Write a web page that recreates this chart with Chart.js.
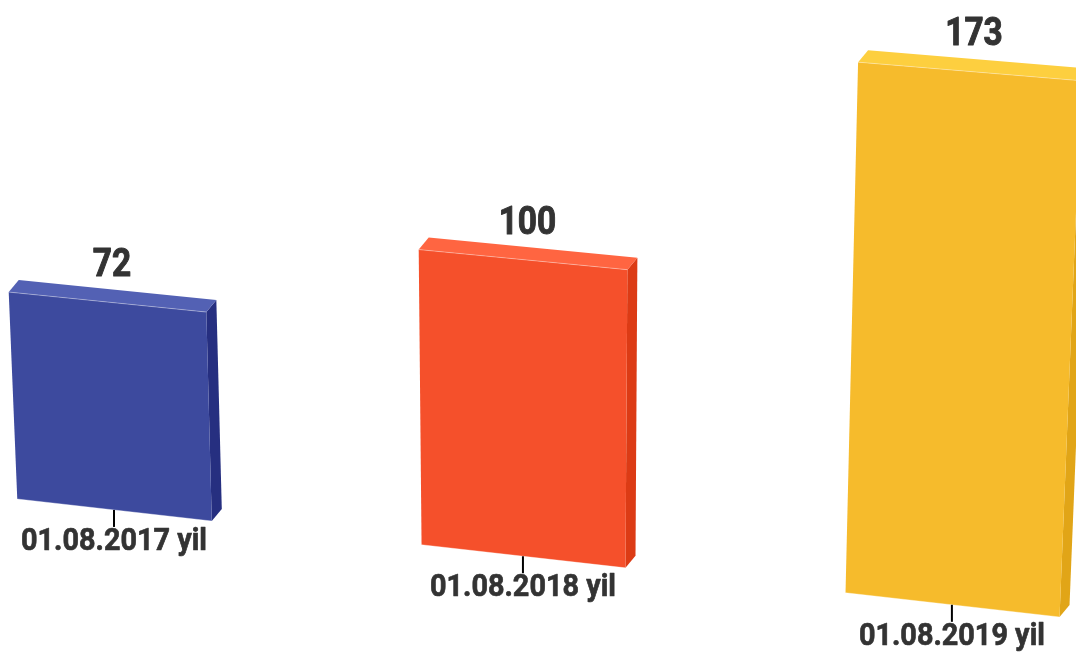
<!DOCTYPE html>
<html>
<head>
<meta charset="utf-8">
<script src="https://cdn.jsdelivr.net/npm/chart.js@4.4.1/dist/chart.umd.min.js"></script>
<style>
  html, body { margin: 0; padding: 0; background: #fff; }
  #wrap { width: 1076px; height: 656px; }
</style>
</head>
<body>
<div id="wrap"><canvas id="grafico"></canvas></div>
<script>
// ===============================
// DATOS
// ===============================
const categorias = ["01.08.2017 yil", "01.08.2018 yil", "01.08.2019 yil"];
const valores = [72, 100, 173];
const coloresFrente = ["#3d4a9e", "#f5502b", "#f6bb2c"];
const coloresArriba = ["#5361b4", "#ff6541", "#fdcf3f"];
const coloresLado = ["#262f80", "#dc3b15", "#e1a517"];

// ===============================
// PERSPECTIVA
// ===============================
// plano (u = unidades de categoria, v = unidades de valor) -> pixeles de pantalla
const H = [
  [392.2, -0.12, -83.43],
  [32.95, -2.9213, 487.6],
  [-0.02304, -0.00022, 1],
];
const profundidad = { dx: 10, dy: -12 };

function proyectar(u, v) {
  const w = H[2][0] * u + H[2][1] * v + H[2][2];
  return {
    x: (H[0][0] * u + H[0][1] * v + H[0][2]) / w,
    y: (H[1][0] * u + H[1][1] * v + H[1][2]) / w,
  };
}

function atras(p) {
  return { x: p.x + profundidad.dx, y: p.y + profundidad.dy };
}

function poligono(ctx, puntos, color) {
  ctx.beginPath();
  ctx.moveTo(puntos[0].x, puntos[0].y);
  puntos.slice(1).forEach((p) => ctx.lineTo(p.x, p.y));
  ctx.closePath();
  ctx.fillStyle = color;
  ctx.fill();
}

function texto(ctx, str, x, y, fuente, escala, grosor) {
  ctx.save();
  ctx.translate(x, y);
  ctx.scale(escala, 1);
  ctx.font = fuente;
  ctx.fillStyle = "#333333";
  ctx.strokeStyle = "#333333";
  ctx.lineWidth = grosor;
  ctx.lineJoin = "round";
  ctx.textAlign = "center";
  ctx.textBaseline = "alphabetic";
  ctx.fillText(str, 0, 0);
  ctx.strokeText(str, 0, 0);
  ctx.restore();
}

// ===============================
// PLUGIN BARRAS 3D
// ===============================
const barras3D = {
  id: "barras3D",
  beforeDatasetsDraw(chart) {
    const { ctx, chartArea, scales } = chart;
    const meta = chart.getDatasetMeta(0);
    const n = chart.data.labels.length;
    const aU = (px) => ((px - chartArea.left) / chartArea.width) * n;

    meta.data.forEach((barra, i) => {
      const { x, y, base, width } = barra.getProps(["x", "y", "base", "width"], true);
      const uL = aU(x - width / 2);
      const uR = aU(x + width / 2);
      const uC = aU(x);
      const v0 = scales.y.getValueForPixel(base);
      const v1 = scales.y.getValueForPixel(y);

      const BL = proyectar(uL, v0), BR = proyectar(uR, v0);
      const TR = proyectar(uR, v1), TL = proyectar(uL, v1);

      ctx.save();
      // lado derecho
      poligono(ctx, [TR, BR, atras(BR), atras(TR)], coloresLado[i]);
      // cara superior
      poligono(ctx, [TL, TR, atras(TR), atras(TL)], coloresArriba[i]);
      // frente
      poligono(ctx, [BL, BR, TR, TL], coloresFrente[i]);

      // brillos en bordes
      ctx.strokeStyle = "rgba(255,255,255,0.35)";
      ctx.lineWidth = 1;
      ctx.beginPath();
      ctx.moveTo(TL.x, TL.y);
      ctx.lineTo(TR.x, TR.y);
      ctx.moveTo(BL.x, BL.y);
      ctx.lineTo(BR.x, BR.y);
      ctx.stroke();

      // etiqueta de valor
      const arriba = proyectar(uC, v1);
      texto(ctx, String(valores[i]), arriba.x + profundidad.dx / 2,
        arriba.y + profundidad.dy / 2 - 20, "bold 38px Roboto", 0.88, 1);

      // marca y etiqueta de categoria
      const abajo = proyectar(uC, v0);
      ctx.strokeStyle = "#000000";
      ctx.lineWidth = 2;
      ctx.beginPath();
      ctx.moveTo(abajo.x, abajo.y);
      ctx.lineTo(abajo.x, abajo.y + 17);
      ctx.stroke();
      texto(ctx, categorias[i], abajo.x, abajo.y + 40, "bold 31px Roboto", 0.93, 0.7);
      ctx.restore();
    });
    return false;
  },
};

// ===============================
// GRAFICO
// ===============================
new Chart(document.getElementById("grafico"), {
  type: "bar",
  data: {
    labels: categorias,
    datasets: [
      {
        data: valores,
        backgroundColor: coloresFrente,
        barPercentage: 0.487,
        categoryPercentage: 1,
      },
    ],
  },
  options: {
    responsive: true,
    maintainAspectRatio: false,
    animation: false,
    layout: { padding: 0 },
    plugins: { legend: { display: false }, tooltip: { enabled: false } },
    scales: {
      x: { display: false },
      y: { display: false, min: 0, max: 200 },
    },
  },
  plugins: [barras3D],
});
</script>
</body>
</html>
